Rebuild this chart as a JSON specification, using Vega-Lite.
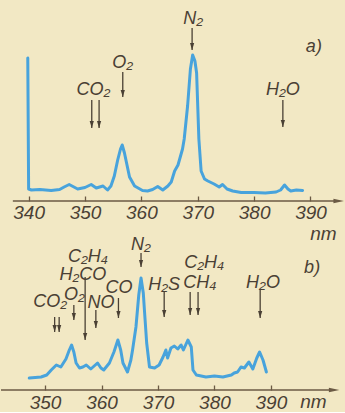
{
  "$schema": "https://vega.github.io/schema/vega-lite/v6.json",
  "background": "#f2e8c4",
  "padding": 0,
  "spacing": 19,
  "bounds": "flush",
  "config": {
    "view": {"stroke": null},
    "axis": {
      "domain": false, "grid": false,
      "tickColor": "#6b5a44", "tickWidth": 1.3, "tickSize": -5,
      "labelFont": "Liberation Sans Narrow, Liberation Sans, sans-serif",
      "labelFontStyle": "italic", "labelFontSize": 19, "labelColor": "#4a4034",
      "labelBaseline": "top",
      "titleFont": "Liberation Sans Narrow, Liberation Sans, sans-serif",
      "titleFontStyle": "italic", "titleFontWeight": "normal", "titleFontSize": 19,
      "titleColor": "#4a4034", "titleBaseline": "middle", "titleAlign": "center"
    },
    "text": {
      "font": "Liberation Sans Narrow, Liberation Sans, sans-serif",
      "fontStyle": "italic", "fontSize": 18, "color": "#4a4034",
      "align": "center", "baseline": "alphabetic"
    }
  },
  "datasets": {
    "specA": [
      {"nm":339.85,"v":143},{"nm":340.0,"v":12},{"nm":340.5,"v":11},{"nm":342,"v":11.5},{"nm":344,"v":10.5},
      {"nm":345.5,"v":11.5},{"nm":346.3,"v":14},{"nm":347.2,"v":16.5},{"nm":348.7,"v":12},{"nm":350,"v":13.5},
      {"nm":351.1,"v":16.5},{"nm":352,"v":13},{"nm":353.2,"v":15},{"nm":354.0,"v":11},{"nm":354.6,"v":15},
      {"nm":355.2,"v":25},{"nm":355.8,"v":41},{"nm":356.3,"v":52},{"nm":356.6,"v":56},{"nm":357.0,"v":48},
      {"nm":357.3,"v":40},{"nm":357.9,"v":24},{"nm":358.8,"v":15},{"nm":360.2,"v":10.5},{"nm":361.1,"v":10},
      {"nm":362.0,"v":11.5},{"nm":362.9,"v":14.5},{"nm":363.8,"v":11},{"nm":364.7,"v":15},{"nm":365.3,"v":19},
      {"nm":365.9,"v":30},{"nm":366.5,"v":36},{"nm":367.3,"v":52},{"nm":367.6,"v":62},{"nm":368.2,"v":95},
      {"nm":368.7,"v":132},{"nm":369.1,"v":146},{"nm":369.5,"v":140},{"nm":369.8,"v":128},{"nm":370.0,"v":95},
      {"nm":370.2,"v":62},{"nm":370.6,"v":30},{"nm":371.2,"v":22},{"nm":371.8,"v":20},{"nm":372.9,"v":17},
      {"nm":373.8,"v":14},{"nm":374.4,"v":16.5},{"nm":375.2,"v":12},{"nm":376.2,"v":10},{"nm":377.7,"v":8.5},
      {"nm":380,"v":8.5},{"nm":382,"v":8},{"nm":383.9,"v":9},{"nm":384.7,"v":11},{"nm":385.4,"v":16},
      {"nm":386.0,"v":12},{"nm":386.5,"v":10},{"nm":387.5,"v":11},{"nm":388.6,"v":10.5}
    ],
    "specB": [
      {"nm":347.2,"v":12},{"nm":349.3,"v":13},{"nm":350.3,"v":15},{"nm":351.1,"v":20},{"nm":352.0,"v":25},
      {"nm":352.8,"v":23},{"nm":353.7,"v":31},{"nm":354.3,"v":40},{"nm":354.7,"v":45},{"nm":355.1,"v":38},
      {"nm":355.5,"v":27},{"nm":356.1,"v":22},{"nm":356.7,"v":23},{"nm":357.3,"v":25},{"nm":358.1,"v":21},
      {"nm":358.7,"v":24},{"nm":359.3,"v":27},{"nm":359.9,"v":22},{"nm":360.4,"v":20},{"nm":361.4,"v":27},
      {"nm":362.2,"v":38},{"nm":362.9,"v":50},{"nm":363.4,"v":40},{"nm":363.8,"v":27},{"nm":364.6,"v":18},
      {"nm":365.2,"v":30},{"nm":365.5,"v":40},{"nm":366.1,"v":63},{"nm":366.6,"v":95},{"nm":367.0,"v":112},
      {"nm":367.4,"v":97},{"nm":367.6,"v":80},{"nm":368.0,"v":47},{"nm":368.5,"v":23},{"nm":369.4,"v":22},
      {"nm":370.2,"v":25},{"nm":370.9,"v":33},{"nm":371.4,"v":40},{"nm":371.7,"v":32},{"nm":372.3,"v":42},
      {"nm":372.9,"v":44},{"nm":373.5,"v":41},{"nm":374.1,"v":45},{"nm":374.5,"v":40},{"nm":375.3,"v":50},
      {"nm":375.9,"v":43},{"nm":376.2,"v":20},{"nm":376.8,"v":15},{"nm":378.5,"v":13},{"nm":380,"v":14},
      {"nm":381.5,"v":13},{"nm":383.0,"v":15},{"nm":383.5,"v":17},{"nm":384.1,"v":18},{"nm":384.7,"v":23},
      {"nm":385.3,"v":22},{"nm":386.1,"v":28},{"nm":386.8,"v":21},{"nm":387.5,"v":32},{"nm":388.0,"v":38},
      {"nm":388.6,"v":30},{"nm":389.2,"v":18}
    ],
    "axA": [{"x1":337.2,"x2":394.5,"y":0}],
    "headA": [{"x":395.0,"y":0}],
    "axB": [{"x1":342.2,"x2":400.6,"y":0}],
    "headB": [{"x":401.2,"y":0}],
    "arrA": [
      {"x":369.0,"y1":173,"y2":151},
      {"x":356.7,"y1":129,"y2":104},
      {"x":351.2,"y1":101,"y2":73},
      {"x":352.5,"y1":101,"y2":73},
      {"x":385.1,"y1":101,"y2":74}
    ],
    "labA": [
      {"x":369.2,"y":177,"t":"N₂"},
      {"x":356.7,"y":133,"t":"O₂"},
      {"x":351.5,"y":106,"t":"CO₂"},
      {"x":385.1,"y":106,"t":"H₂O"},
      {"x":390.6,"y":149,"t":"a)"}
    ],
    "arrB": [
      {"x":351.7,"y1":73,"y2":58},
      {"x":352.5,"y1":73,"y2":58},
      {"x":355.1,"y1":85,"y2":70},
      {"x":357.1,"y1":113,"y2":50},
      {"x":359.0,"y1":80,"y2":62},
      {"x":363.0,"y1":92,"y2":72},
      {"x":367.0,"y1":137,"y2":123},
      {"x":371.1,"y1":98,"y2":73},
      {"x":375.7,"y1":98,"y2":75},
      {"x":377.1,"y1":98,"y2":75},
      {"x":388.1,"y1":100,"y2":72}
    ],
    "labB": [
      {"x":350.9,"y":83,"t":"CO₂"},
      {"x":355.2,"y":90,"t":"O₂"},
      {"x":356.7,"y":110,"t":"H₂CO"},
      {"x":357.6,"y":128,"t":"C₂H₄"},
      {"x":359.9,"y":82,"t":"NO"},
      {"x":363.1,"y":97,"t":"CO"},
      {"x":367.0,"y":140,"t":"N₂"},
      {"x":371.1,"y":100,"t":"H₂S"},
      {"x":377.4,"y":102,"t":"CH₄"},
      {"x":378.2,"y":122,"t":"C₂H₄"},
      {"x":388.6,"y":102,"t":"H₂O"},
      {"x":397.3,"y":117,"t":"b)"}
    ]
  },
  "vconcat": [
    {
      "width": 345, "height": 201,
      "layer": [
        {
          "data": {"name": "specA"},
          "mark": {"type": "line", "color": "#48a3dc", "strokeWidth": 3, "strokeJoin": "round", "strokeCap": "round"},
          "encoding": {
            "x": {"field": "nm", "type": "quantitative", "title": "nm", "scale": {"domain": [335.1, 396.3], "nice": false, "zero": false},
                  "axis": {"values": [340, 350, 360, 370, 380, 390], "labelPadding": 7, "titleX": 322, "titleY": 32}},
            "y": {"field": "v", "type": "quantitative", "title": null, "scale": {"domain": [0, 201], "nice": false}, "axis": null}
          }
        },
        {
          "data": {"name": "axA"},
          "mark": {"type": "rule", "color": "#6b5a44", "strokeWidth": 1.6},
          "encoding": {
            "x": {"field": "x1", "type": "quantitative", "title": "nm"},
            "x2": {"field": "x2"},
            "y": {"field": "y", "type": "quantitative", "title": null}
          }
        },
        {
          "data": {"name": "headA"},
          "mark": {"type": "point", "shape": "M-1,-0.45L1,0L-1,0.45Z", "filled": true, "size": 110, "color": "#6b5a44", "opacity": 1},
          "encoding": {
            "x": {"field": "x", "type": "quantitative", "title": "nm"},
            "y": {"field": "y", "type": "quantitative", "title": null}
          }
        },
        {
          "data": {"name": "arrA"},
          "mark": {"type": "rule", "color": "#4a4034", "strokeWidth": 1.3},
          "encoding": {
            "x": {"field": "x", "type": "quantitative", "title": "nm"},
            "y": {"field": "y1", "type": "quantitative", "title": null},
            "y2": {"field": "y2"}
          }
        },
        {
          "data": {"name": "arrA"},
          "mark": {"type": "point", "shape": "M-0.6,-1L0.6,-1L0,1Z", "filled": true, "size": 49, "yOffset": -3.5, "color": "#4a4034", "opacity": 1},
          "encoding": {
            "x": {"field": "x", "type": "quantitative", "title": "nm"},
            "y": {"field": "y2", "type": "quantitative", "title": null}
          }
        },
        {
          "data": {"name": "labA"},
          "mark": {"type": "text"},
          "encoding": {
            "x": {"field": "x", "type": "quantitative", "title": "nm"},
            "y": {"field": "y", "type": "quantitative", "title": null},
            "text": {"field": "t"}
          }
        }
      ]
    },
    {
      "width": 345, "height": 170,
      "layer": [
        {
          "data": {"name": "specB"},
          "mark": {"type": "line", "color": "#48a3dc", "strokeWidth": 3, "strokeJoin": "round", "strokeCap": "round"},
          "encoding": {
            "x": {"field": "nm", "type": "quantitative", "title": "nm", "scale": {"domain": [342.2, 403.3], "nice": false, "zero": false},
                  "axis": {"values": [350, 360, 370, 380, 390], "labelPadding": 8, "titleX": 312, "titleY": 11}},
            "y": {"field": "v", "type": "quantitative", "title": null, "scale": {"domain": [0, 170], "nice": false}, "axis": null}
          }
        },
        {
          "data": {"name": "axB"},
          "mark": {"type": "rule", "color": "#6b5a44", "strokeWidth": 1.6},
          "encoding": {
            "x": {"field": "x1", "type": "quantitative", "title": "nm"},
            "x2": {"field": "x2"},
            "y": {"field": "y", "type": "quantitative", "title": null}
          }
        },
        {
          "data": {"name": "headB"},
          "mark": {"type": "point", "shape": "M-1,-0.45L1,0L-1,0.45Z", "filled": true, "size": 110, "color": "#6b5a44", "opacity": 1},
          "encoding": {
            "x": {"field": "x", "type": "quantitative", "title": "nm"},
            "y": {"field": "y", "type": "quantitative", "title": null}
          }
        },
        {
          "data": {"name": "arrB"},
          "mark": {"type": "rule", "color": "#4a4034", "strokeWidth": 1.3},
          "encoding": {
            "x": {"field": "x", "type": "quantitative", "title": "nm"},
            "y": {"field": "y1", "type": "quantitative", "title": null},
            "y2": {"field": "y2"}
          }
        },
        {
          "data": {"name": "arrB"},
          "mark": {"type": "point", "shape": "M-0.6,-1L0.6,-1L0,1Z", "filled": true, "size": 49, "yOffset": -3.5, "color": "#4a4034", "opacity": 1},
          "encoding": {
            "x": {"field": "x", "type": "quantitative", "title": "nm"},
            "y": {"field": "y2", "type": "quantitative", "title": null}
          }
        },
        {
          "data": {"name": "labB"},
          "mark": {"type": "text"},
          "encoding": {
            "x": {"field": "x", "type": "quantitative", "title": "nm"},
            "y": {"field": "y", "type": "quantitative", "title": null},
            "text": {"field": "t"}
          }
        }
      ]
    }
  ]
}
